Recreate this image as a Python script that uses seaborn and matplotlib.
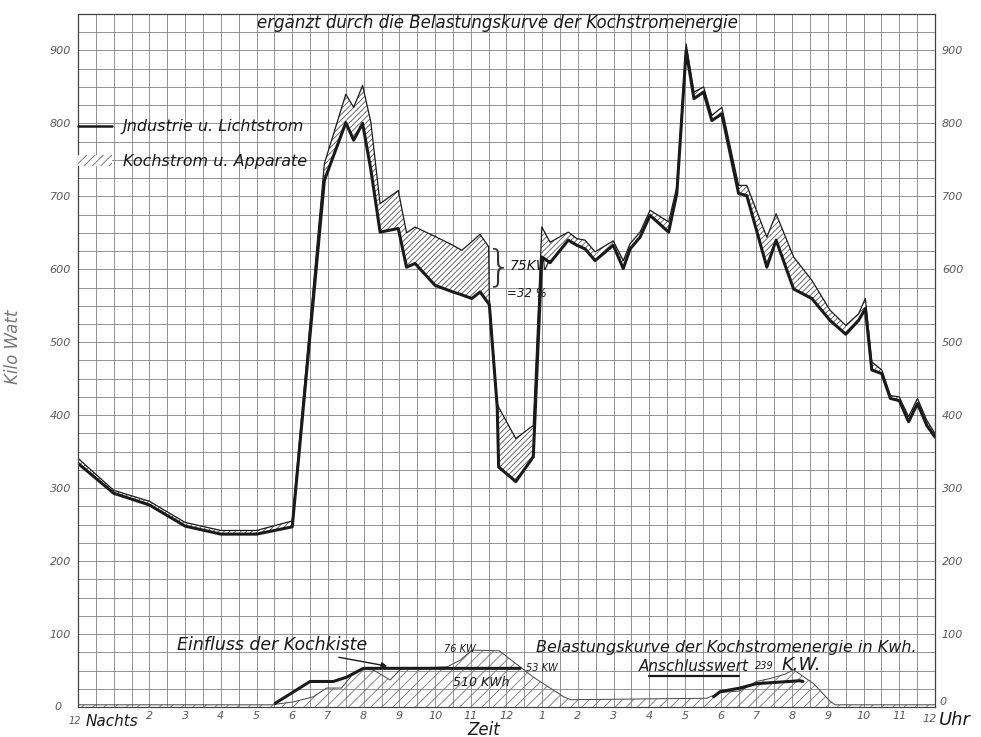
import matplotlib.pyplot as plt
from matplotlib.lines import Line2D
from matplotlib.patches import Patch
import seaborn as sns

# Belastungskurve (Stunden ab Mitternacht, Kilowatt)
zeit = [0.0, 1.0, 2.0, 3.0, 4.0, 5.0, 6.0, 6.9, 7.5, 7.72, 7.97, 8.2, 8.46,
        8.97, 9.2, 9.44, 10.0, 10.5, 10.75, 11.03, 11.26, 11.5, 11.52, 11.74,
        11.78, 12.26, 12.75, 12.99, 13.22, 13.73, 13.97, 14.2, 14.48, 14.99,
        15.27, 15.46, 15.74, 16.02, 16.54, 16.77, 17.03, 17.25, 17.52, 17.75,
        18.03, 18.5, 18.73, 19.29, 19.55, 20.04, 20.55, 21.06, 21.5, 21.86,
        22.05, 22.23, 22.51, 22.75, 23.0, 23.26, 23.51, 23.77, 24.0]
industrie = [334, 293, 277, 248, 237, 237, 247, 722, 801, 777, 800, 737, 651,
             656, 603, 608, 578, 569, 565, 560, 569, 553, 551, 411,
             329, 309, 343, 617, 609, 640, 633, 628, 612, 633,
             601, 628, 644, 674, 651, 704, 900, 834, 843, 804,
             813, 704, 701, 603, 640, 573, 560, 530, 511, 530,
             546, 462, 457, 423, 420, 391, 416, 386, 370]
gesamt = [341, 297, 282, 253, 242, 242, 255, 745, 840, 822, 852, 802, 690,
          708, 650, 658, 645, 633, 626, 638, 648, 631, 560, 415,
          411, 368, 386, 658, 637, 651, 642, 640, 624, 639,
          612, 635, 651, 681, 665, 713, 909, 843, 850, 811,
          822, 715, 715, 644, 676, 617, 585, 544, 523, 539,
          560, 473, 462, 427, 425, 398, 423, 393, 375]

# Kochstromenergie (untere Kurve)
koch_zeit = [0.0, 5.5, 5.57, 6.03, 6.59, 6.96, 7.38, 7.71, 8.0, 8.3, 8.74,
             9.02, 9.1, 10.33, 10.7, 11.03, 11.8, 12.38, 12.75, 13.6, 13.8,
             17.6, 18.0, 18.54, 19.0, 19.38, 19.8, 20.04, 20.6, 21.06, 21.2,
             24.0]
koch_kw = [3, 3, 4, 7, 14, 26, 26, 46, 53, 50, 37,
           51, 53, 55, 64, 78, 77, 55, 41, 14, 10,
           12, 20, 22, 35, 39, 45, 51, 32, 8, 3,
           3]

# Einfluss der Kochkiste
kiste_morgen_zeit = [5.52, 6.5, 7.15, 7.53, 7.99, 12.38]
kiste_morgen_kw = [5, 35, 35, 41, 53, 53]
kiste_abend_zeit = [17.8, 17.98, 18.54, 19.0, 20.22, 20.3]
kiste_abend_kw = [14, 21, 26, 32, 36, 35]

kw_ticks = [0, 100, 200, 300, 400, 500, 600, 700, 800, 900]
stunden = list(range(2, 24))
stunden_labels = [str(h if h <= 12 else h - 12) for h in stunden]

sns.set_style('white')
plt.rcParams['font.family'] = ['DejaVu Sans']
plt.rcParams['hatch.linewidth'] = 0.6

fig = plt.figure(figsize=(9.81, 7.37), dpi=100)
ax = fig.add_axes([78 / 981, 30 / 737, 857 / 981, 693 / 737])

ink = '#1a1a1a'
grau = '#5a5a5a'

# Raster
ax.set_xlim(0, 24)
ax.set_ylim(0, 950)
ax.set_xticks([h / 2 for h in range(49)], minor=True)
ax.set_yticks(range(0, 951, 25), minor=True)
ax.set_xticks(stunden)
ax.set_xticklabels(stunden_labels)
ax.set_yticks(kw_ticks[1:])
ax.set_yticklabels([str(v) for v in kw_ticks[1:]])
ax.grid(which='both', color='#777777', lw=0.55)
ax.tick_params(which='both', length=0)
ax.tick_params(axis='y', labelright=True, labelsize=8, colors=grau, pad=5)
ax.tick_params(axis='x', labelsize=8, colors=grau, pad=3)
for lab in ax.get_xticklabels() + ax.get_yticklabels():
    lab.set_style('italic')
for s in ax.spines.values():
    s.set_color('#444')
    s.set_linewidth(0.9)

# Kochstrom-Schraffur zwischen den Kurven
ax.fill_between(zeit, industrie, gesamt, facecolor='white', edgecolor='#555',
                hatch='//////', linewidth=0)
sns.lineplot(x=zeit, y=gesamt, ax=ax, color=ink, lw=0.9,
             estimator=None, sort=False, legend=False)
sns.lineplot(x=zeit, y=industrie, ax=ax, color=ink, lw=2.2,
             estimator=None, sort=False, legend=False)

# untere Kurven
ax.fill_between(koch_zeit, 0, koch_kw, facecolor='none', edgecolor='#777',
                hatch='///', linewidth=0)
sns.lineplot(x=koch_zeit, y=koch_kw, ax=ax, color='#444', lw=0.7,
             estimator=None, sort=False, legend=False)
sns.lineplot(x=kiste_morgen_zeit, y=kiste_morgen_kw, ax=ax, color=ink,
             lw=2.2, estimator=None, sort=False, legend=False)
sns.lineplot(x=kiste_abend_zeit, y=kiste_abend_kw, ax=ax, color=ink,
             lw=2.2, estimator=None, sort=False, legend=False)

# Legende
handles = [Line2D([], [], color=ink, lw=1.8),
           Patch(facecolor='white', edgecolor='#666', hatch='////', lw=0)]
leg = ax.legend(handles, ['Jndustrie u. Lichtstrom', 'Kochstrom u. Apparate'],
                loc='upper left', bbox_to_anchor=(0, 0.848), frameon=False,
                borderaxespad=0, borderpad=0, handlelength=2.1,
                handletextpad=0.7, labelspacing=1.25,
                prop={'style': 'italic', 'size': 11.5})
for t in leg.get_texts():
    t.set_color(ink)

it = dict(style='italic', color=ink)
ax.text(11.76, 938, 'ergänzt durch die Belastungskurve der Kochstromenergie',
        ha='center', va='center', fontsize=12, **it)
ax.text(11.8, 602, '}', ha='center', va='center', fontsize=30,
        fontweight='light', color='#333')
ax.text(12.08, 605, '75KW', ha='left', va='center', fontsize=10, **it)
ax.text(12.02, 567, '=32 %', ha='left', va='center', fontsize=8.5, **it)
ax.annotate('Einfluss der Kochkiste', xy=(8.66, 56), xytext=(5.43, 85),
            ha='center', va='center', fontsize=12.5, **it,
            arrowprops=dict(arrowstyle='-|>', color=ink, lw=1.0,
                            shrinkA=0, shrinkB=0, mutation_scale=8))
ax.text(10.7, 79, '76 KW', ha='center', va='center', fontsize=7, **it)
ax.text(11.3, 33, '510 KWh', ha='center', va='center', fontsize=9, **it)
ax.text(12.55, 53, '53 KW', ha='left', va='center', fontsize=7, **it)
ax.text(18.15, 82, 'Belastungskurve der Kochstromenergie in Kwh.',
        ha='center', va='center', fontsize=11.5, **it)
ax.text(17.25, 55, 'Anschlusswert', ha='center', va='center',
        fontsize=11, **it)
ax.plot([16.0, 18.5], [43, 43], color=ink, lw=1.6)
ax.text(18.95, 56, '239', ha='left', va='center', fontsize=7, **it)
ax.text(20.25, 57, 'K.W.', ha='center', va='center', fontsize=13, **it)

# Achsenbeschriftung
ax.text(-0.1, -12, '12', ha='center', va='top', fontsize=7, color=grau,
        style='italic')
ax.text(0.2, -9, 'Nachts', ha='left', va='top', fontsize=11, **it)
ax.text(23.85, -9, '12', ha='center', va='top', fontsize=8, color=grau,
        style='italic')
ax.text(24.12, -6, 'Uhr', ha='left', va='top', fontsize=13, **it)
ax.text(24.12, 0, '0', ha='left', va='bottom', fontsize=8, color=grau,
        style='italic')
ax.text(-0.45, 0, '0', ha='right', va='center', fontsize=8, color=grau,
        style='italic')
ax.text(11.35, -31, 'Zeit', ha='center', va='center', fontsize=12, **it)
ax.set_ylabel('Kilo Watt', fontsize=12, style='italic', color='#777')
ax.yaxis.set_label_coords(-0.065, 0.52)

fig.savefig('out.png', dpi=100)
